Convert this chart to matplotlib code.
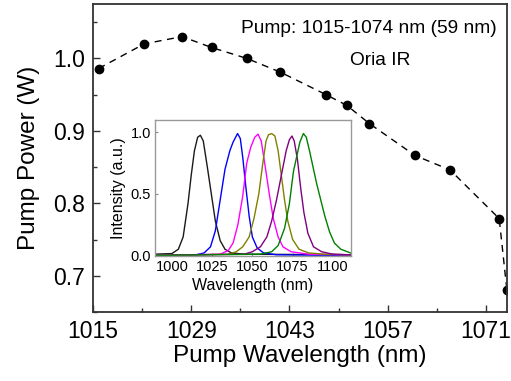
import numpy as np
import matplotlib
matplotlib.use("Agg")
import matplotlib.pyplot as plt
from matplotlib.ticker import MultipleLocator, FixedLocator

plt.rcParams["font.family"] = ["Liberation Sans", "DejaVu Sans"]

# pump power versus pump wavelength
wl_pump = [1015.8, 1022.3, 1027.7, 1031.9, 1036.9, 1041.7, 1048.2, 1051.2,
           1054.4, 1060.9, 1065.9, 1072.9, 1074.0]
power = [0.986, 1.020, 1.030, 1.015, 1.000, 0.981, 0.950, 0.935,
         0.910, 0.866, 0.846, 0.779, 0.680]

# output spectra (wavelength nm, normalised intensity), one list per pump setting
spec_black_x = [989, 1000, 1004, 1007, 1010, 1012, 1014, 1016, 1017.7, 1019.5,
                1022, 1024.5, 1027, 1030, 1033, 1037, 1045, 1111]
spec_black_y = [0.01, 0.015, 0.05, 0.15, 0.42, 0.65, 0.85, 0.96, 0.976, 0.93,
                0.72, 0.5, 0.28, 0.12, 0.05, 0.02, 0.01, 0.005]
spec_blue_x = [989, 1015, 1020, 1024, 1027, 1030, 1033, 1036, 1038, 1040.8,
               1042.5, 1044, 1046, 1048, 1050, 1053, 1057, 1065, 1111]
spec_blue_y = [0.0, 0.005, 0.02, 0.07, 0.2, 0.45, 0.7, 0.85, 0.92, 0.99,
               0.95, 0.8, 0.55, 0.32, 0.15, 0.06, 0.02, 0.005, 0.0]
spec_mag_x = [989, 1030, 1035, 1038, 1041, 1044, 1046.5, 1049, 1051.5, 1053.5,
              1055.5, 1058, 1060.5, 1063, 1066, 1069, 1074, 1085, 1111]
spec_mag_y = [0.0, 0.01, 0.04, 0.1, 0.25, 0.48, 0.75, 0.88, 0.96, 0.985,
              0.93, 0.72, 0.5, 0.3, 0.15, 0.07, 0.03, 0.01, 0.005]
spec_olive_x = [989, 1035, 1040, 1044, 1048, 1051, 1054, 1056.5, 1058.5, 1060,
                1062, 1064, 1066, 1068, 1070, 1072, 1075, 1079, 1085, 1095, 1111]
spec_olive_y = [0.0, 0.01, 0.03, 0.07, 0.15, 0.3, 0.5, 0.75, 0.93, 0.98,
                0.99, 0.97, 0.85, 0.65, 0.45, 0.28, 0.13, 0.05, 0.02, 0.01, 0.005]
spec_purple_x = [989, 1045, 1050, 1055, 1059, 1062, 1065, 1068, 1071, 1073,
                 1074.6, 1076, 1078, 1080, 1082, 1084.5, 1088, 1093, 1100, 1111]
spec_purple_y = [0.0, 0.01, 0.03, 0.07, 0.15, 0.28, 0.45, 0.65, 0.85, 0.94,
                 0.97, 0.93, 0.78, 0.55, 0.35, 0.18, 0.07, 0.03, 0.01, 0.005]
spec_green_x = [989, 1055, 1062, 1066, 1070, 1073, 1075.5, 1077.5, 1079.5, 1081.7,
                1083.5, 1085.5, 1088, 1090, 1092.5, 1095, 1098, 1101, 1105, 1111]
spec_green_y = [0.0, 0.01, 0.03, 0.08, 0.22, 0.42, 0.68, 0.8, 0.92, 0.99,
                0.96, 0.85, 0.7, 0.58, 0.45, 0.32, 0.19, 0.1, 0.05, 0.02]

spectra = [
    (spec_black_x, spec_black_y, "#1a1a1a"),
    (spec_blue_x, spec_blue_y, "#0000ff"),
    (spec_mag_x, spec_mag_y, "#ff00ff"),
    (spec_olive_x, spec_olive_y, "#808000"),
    (spec_purple_x, spec_purple_y, "#800080"),
    (spec_green_x, spec_green_y, "#008000"),
]

fig = plt.figure(figsize=(5.11, 3.81), dpi=100)
ax = fig.add_axes([0.182, 0.181, 0.810, 0.8085])

ax.plot(wl_pump, power, color="black", lw=1.0, ls=(0, (5, 4)),
        marker="o", ms=6, mfc="black", mec="black")
ax.set_xlim(1015, 1074)
ax.set_ylim(0.65, 1.075)
ax.xaxis.set_major_locator(FixedLocator([1015, 1029, 1043, 1057, 1071]))
ax.xaxis.set_minor_locator(FixedLocator([1022, 1036, 1050, 1064]))
ax.yaxis.set_major_locator(MultipleLocator(0.1))
ax.yaxis.set_minor_locator(MultipleLocator(0.05))
ax.tick_params(which="both", direction="in", top=False, right=False,
               labelsize=16.5, width=1.0, color="#333333")
ax.tick_params(which="major", length=5)
ax.tick_params(which="minor", length=3)
ax.tick_params(axis="x", which="major", pad=6)
ax.tick_params(axis="y", which="major", pad=6)
for s in ax.spines.values():
    s.set_linewidth(1.3)
    s.set_color("#333333")
ax.set_xlabel("Pump Wavelength (nm)", fontsize=17.5, labelpad=1)
ax.set_ylabel("Pump Power (W)", fontsize=17.5, labelpad=9)

ax.text(0.667, 0.919, "Pump: 1015-1074 nm (59 nm)", transform=ax.transAxes,
        fontsize=13.8, ha="center", va="center")
ax.text(0.693, 0.818, "Oria IR", transform=ax.transAxes,
        fontsize=13.8, ha="center", va="center")

# inset with the output spectra
ins = fig.add_axes([0.3033, 0.328, 0.3827, 0.357])
for xs, ys, c in spectra:
    ins.plot(xs, ys, color=c, lw=1.0)
ins.set_xlim(989.5, 1111)
ins.set_ylim(-0.005, 1.1)
ins.set_xticks([1000, 1025, 1050, 1075, 1100])
ins.set_yticks([0.0, 0.5, 1.0])
ins.tick_params(direction="in", length=2, labelsize=10.5, color="#888888", pad=3)
for s in ins.spines.values():
    s.set_color("#999999")
    s.set_linewidth(1.0)
ins.set_xlabel("Wavelength (nm)", fontsize=11.5, labelpad=3)
ins.set_ylabel("Intensity (a.u.)", fontsize=11.5, labelpad=3)

fig.savefig("out.png", dpi=100)
